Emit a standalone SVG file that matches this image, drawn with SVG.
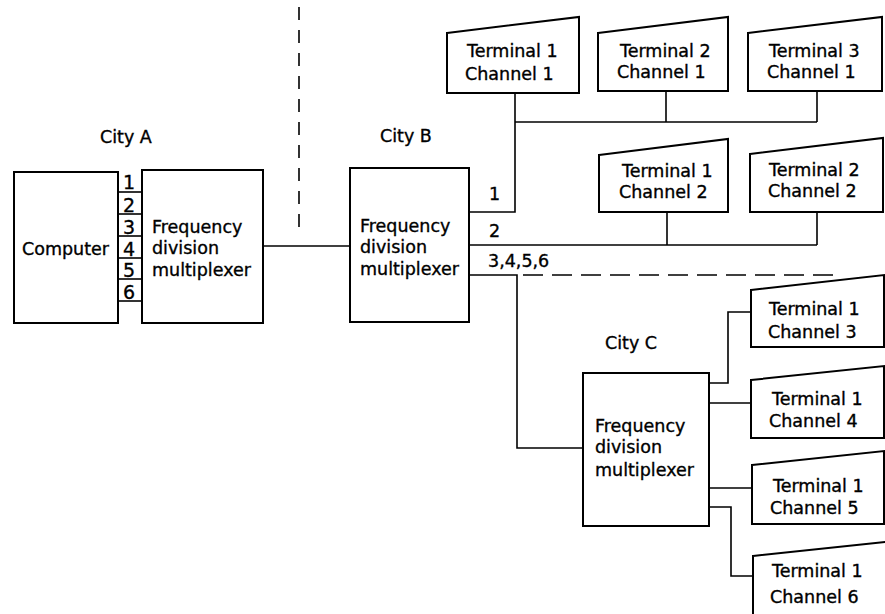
<svg xmlns="http://www.w3.org/2000/svg" width="885" height="614" viewBox="0 0 885 614">
<style>
text{font-family:"DejaVu Sans","Liberation Sans",sans-serif;font-size:17.5px;fill:#000;stroke:#000;stroke-width:0.35}
.num{font-size:19px}
.box{fill:#fff;stroke:#000;stroke-width:2}
.ln{fill:none;stroke:#000;stroke-width:1.6}
.dash{fill:none;stroke:#000;stroke-width:1.6}
</style>
<rect width="885" height="614" fill="#fff"/>
<g id="connectors">
<line class="dash" x1="299" y1="7" x2="299" y2="228" stroke-dasharray="13 10"/>
<line class="dash" x1="523" y1="275" x2="837" y2="275" stroke-dasharray="20 9"/>
<line class="ln" x1="263" y1="246" x2="350" y2="246"/>
<polyline class="ln" points="469,212 515,212 515,93"/>
<line class="ln" x1="515" y1="122" x2="817" y2="122"/>
<line class="ln" x1="666" y1="91" x2="666" y2="122"/>
<line class="ln" x1="817" y1="91" x2="817" y2="122"/>
<line class="ln" x1="469" y1="245" x2="817" y2="245"/>
<line class="ln" x1="667" y1="212" x2="667" y2="245"/>
<line class="ln" x1="817" y1="212" x2="817" y2="245"/>
<polyline class="ln" points="469,275 517,275 517,448 583,448"/>
<polyline class="ln" points="709,383 728,383 728,312 751,312" stroke-width="2.2"/>
<line class="ln" x1="709" y1="403" x2="751" y2="403"/>
<line class="ln" x1="709" y1="488" x2="752" y2="488"/>
<polyline class="ln" points="709,507 731,507 731,576 753,576"/>
</g>
<g id="cityA">
<text x="100" y="143">City A</text>
</g>
<g id="computer">
<rect class="box" x="14" y="172" width="104" height="151"/>
<text x="22" y="255">Computer</text>
</g>
<g id="channels">
<line class="ln" x1="118" y1="192" x2="142" y2="192"/>
<line class="ln" x1="118" y1="214" x2="142" y2="214"/>
<line class="ln" x1="118" y1="236" x2="142" y2="236"/>
<line class="ln" x1="118" y1="258" x2="142" y2="258"/>
<line class="ln" x1="118" y1="279" x2="142" y2="279"/>
<line class="ln" x1="118" y1="301" x2="142" y2="301"/>
<text class="num" x="129" y="189" text-anchor="middle">1</text>
<text class="num" x="129" y="212" text-anchor="middle">2</text>
<text class="num" x="129" y="234" text-anchor="middle">3</text>
<text class="num" x="129" y="256" text-anchor="middle">4</text>
<text class="num" x="129" y="277" text-anchor="middle">5</text>
<text class="num" x="129" y="299" text-anchor="middle">6</text>
</g>
<g id="muxA">
<rect class="box" x="142" y="170" width="121" height="153"/>
<text x="152" y="233">Frequency</text>
<text x="152" y="254">division</text>
<text x="152" y="276">multiplexer</text>
</g>
<g id="cityB">
<text x="380" y="142">City B</text>
</g>
<g id="muxB">
<rect class="box" x="350" y="168" width="119" height="154"/>
<text x="360" y="232">Frequency</text>
<text x="360" y="253">division</text>
<text x="360" y="275">multiplexer</text>
</g>
<g id="labelsB">
<text x="489" y="200">1</text>
<text x="489" y="237">2</text>
<text x="488" y="267">3,4,5,6</text>
</g>
<g id="t1c1">
<polygon class="box" points="447,33 579,17 579,93 447,93"/>
<text x="467" y="57">Terminal 1</text>
<text x="465" y="80">Channel 1</text>
</g>
<g id="t2c1">
<polygon class="box" points="598,33 728,17 728,91 598,91"/>
<text x="620" y="57">Terminal 2</text>
<text x="617" y="78">Channel 1</text>
</g>
<g id="t3c1">
<polygon class="box" points="748,33 882,17 882,91 748,91"/>
<text x="769" y="57">Terminal 3</text>
<text x="767" y="78">Channel 1</text>
</g>
<g id="t1c2">
<polygon class="box" points="599,155 728,139 728,212 599,212"/>
<text x="622" y="177">Terminal 1</text>
<text x="619" y="198">Channel 2</text>
</g>
<g id="t2c2">
<polygon class="box" points="750,154 883,138 883,212 750,212"/>
<text x="769" y="176">Terminal 2</text>
<text x="768" y="197">Channel 2</text>
</g>
<g id="cityC">
<text x="605" y="349">City C</text>
</g>
<g id="muxC">
<rect class="box" x="583" y="373" width="126" height="153"/>
<text x="595" y="432">Frequency</text>
<text x="595" y="453">division</text>
<text x="595" y="476">multiplexer</text>
</g>
<g id="t1c3">
<polygon class="box" points="751,290 884,275 884,347 751,347"/>
<text x="769" y="315">Terminal 1</text>
<text x="768" y="338">Channel 3</text>
</g>
<g id="t1c4">
<polygon class="box" points="751,380 884,366 884,438 751,438"/>
<text x="772" y="405">Terminal 1</text>
<text x="769" y="427">Channel 4</text>
</g>
<g id="t1c5">
<polygon class="box" points="752,465 884,451 884,524 752,524"/>
<text x="773" y="492">Terminal 1</text>
<text x="770" y="514">Channel 5</text>
</g>
<g id="t1c6">
<polygon class="box" points="753,556 886,542 886,620 753,620"/>
<text x="772" y="577">Terminal 1</text>
<text x="770" y="603">Channel 6</text>
</g>
</svg>
